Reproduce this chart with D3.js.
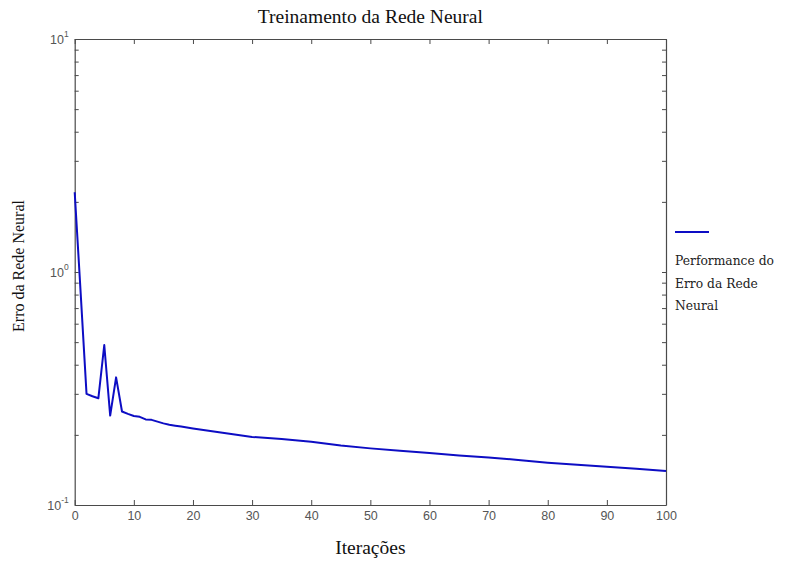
<!DOCTYPE html>
<html><head><meta charset="utf-8">
<script src="https://cdn.jsdelivr.net/npm/d3@7"></script>
<style>body{margin:0;background:#fff}</style>
</head><body>
<svg id="c" width="786" height="561"></svg>
<script>
const iterations = [0,1,2,3,4,5,6,7,8,9,10,11,12,13,14,15,16,17,18,19,20,25,30,35,40,45,50,55,60,65,70,75,80,85,90,95,100];
const errors = [2.2,0.82,0.30,0.293,0.287,0.486,0.242,0.353,0.252,0.246,0.241,0.239,0.233,0.232,0.228,0.224,0.221,0.219,0.217,0.215,0.213,0.204,0.196,0.192,0.187,0.180,0.175,0.171,0.167,0.163,0.160,0.156,0.152,0.149,0.146,0.143,0.140];
const xTickValues = [0,10,20,30,40,50,60,70,80,90,100];
const yMajorTicks = [0.1,1,10];
const yExponents = ["-1","0","1"];
const titleText = "Treinamento da Rede Neural";
const xLabel = "Iterações";
const yLabel = "Erro da Rede Neural";
const legendLines = ["Performance do","Erro da Rede","Neural"];

const svg = d3.select("#c");
const L = 74.7, R = 666, T = 39, B = 505;
const x = d3.scaleLinear().domain([0,100]).range([L,R]);
const y = d3.scaleLog().domain([0.1,10]).range([B,T]);

const minor = [];
[0.1,1].forEach(d => { for (let k=2;k<=9;k++) minor.push(+(k*d).toFixed(3)); });
const allY = yMajorTicks.concat(minor);

const axisColor = "#4a4a4a";
function styleAxis(g){
  g.selectAll("path").attr("stroke",axisColor).attr("stroke-width",1.2);
  g.selectAll("line").attr("stroke",axisColor).attr("stroke-width",1);
}
// bottom
const gb = svg.append("g").attr("transform",`translate(0,${B})`)
  .call(d3.axisBottom(x).tickValues(xTickValues).tickSize(-5).tickSizeOuter(0).tickPadding(6));
styleAxis(gb);
gb.selectAll("text").attr("font-family","Liberation Sans, Arial, sans-serif").attr("font-size",12.5).attr("fill","#555");
// top
const gt = svg.append("g").attr("transform",`translate(0,${T})`)
  .call(d3.axisTop(x).tickValues(xTickValues).tickSize(-5).tickSizeOuter(0).tickFormat(""));
styleAxis(gt);
// left
const gl = svg.append("g").attr("transform",`translate(${L},0)`)
  .call(d3.axisLeft(y).tickValues(allY).tickSize(-4).tickSizeOuter(0).tickFormat(""));
styleAxis(gl);
// right
const gr = svg.append("g").attr("transform",`translate(${R},0)`)
  .call(d3.axisRight(y).tickValues(allY).tickSize(-4).tickSizeOuter(0).tickFormat(""));
styleAxis(gr);

// y tick labels as 10^n
yMajorTicks.forEach((v,i) => {
  const t = svg.append("text").attr("x",L-6).attr("y",y(v)+5)
    .attr("text-anchor","end").attr("font-family","Liberation Sans, Arial, sans-serif")
    .attr("font-size",12.5).attr("fill","#555");
  t.append("tspan").text("10");
  t.append("tspan").attr("font-size",8.5).attr("dy",-7).text(yExponents[i]);
});

// line
svg.append("path").datum(iterations.map((d,i)=>[d,errors[i]]))
  .attr("fill","none").attr("stroke","#0d0dc4").attr("stroke-width",2)
  .attr("stroke-linejoin","round")
  .attr("d", d3.line().x(d=>x(d[0])).y(d=>y(d[1])));

// title & labels
svg.append("text").attr("x",(L+R)/2).attr("y",23).attr("text-anchor","middle")
  .attr("font-family","Liberation Serif, Times New Roman, serif").attr("font-size",19.5).attr("fill","#111").text(titleText);
svg.append("text").attr("x",(L+R)/2).attr("y",554).attr("text-anchor","middle")
  .attr("font-family","Liberation Serif, Times New Roman, serif").attr("font-size",19.5).attr("fill","#111").text(xLabel);
svg.append("text").attr("transform",`translate(24,266) rotate(-90)`).attr("text-anchor","middle")
  .attr("font-family","Liberation Serif, Times New Roman, serif").attr("font-size",16).attr("fill","#111").text(yLabel);

// legend
svg.append("line").attr("x1",675).attr("x2",709).attr("y1",232).attr("y2",232)
  .attr("stroke","#0d0dc4").attr("stroke-width",2);
legendLines.forEach((s,i)=>{
  svg.append("text").attr("x",675).attr("y",265+i*22.5)
    .attr("font-family","DejaVu Serif, serif").attr("font-size",12.3).attr("fill","#222").text(s);
});
</script>
</body></html>
